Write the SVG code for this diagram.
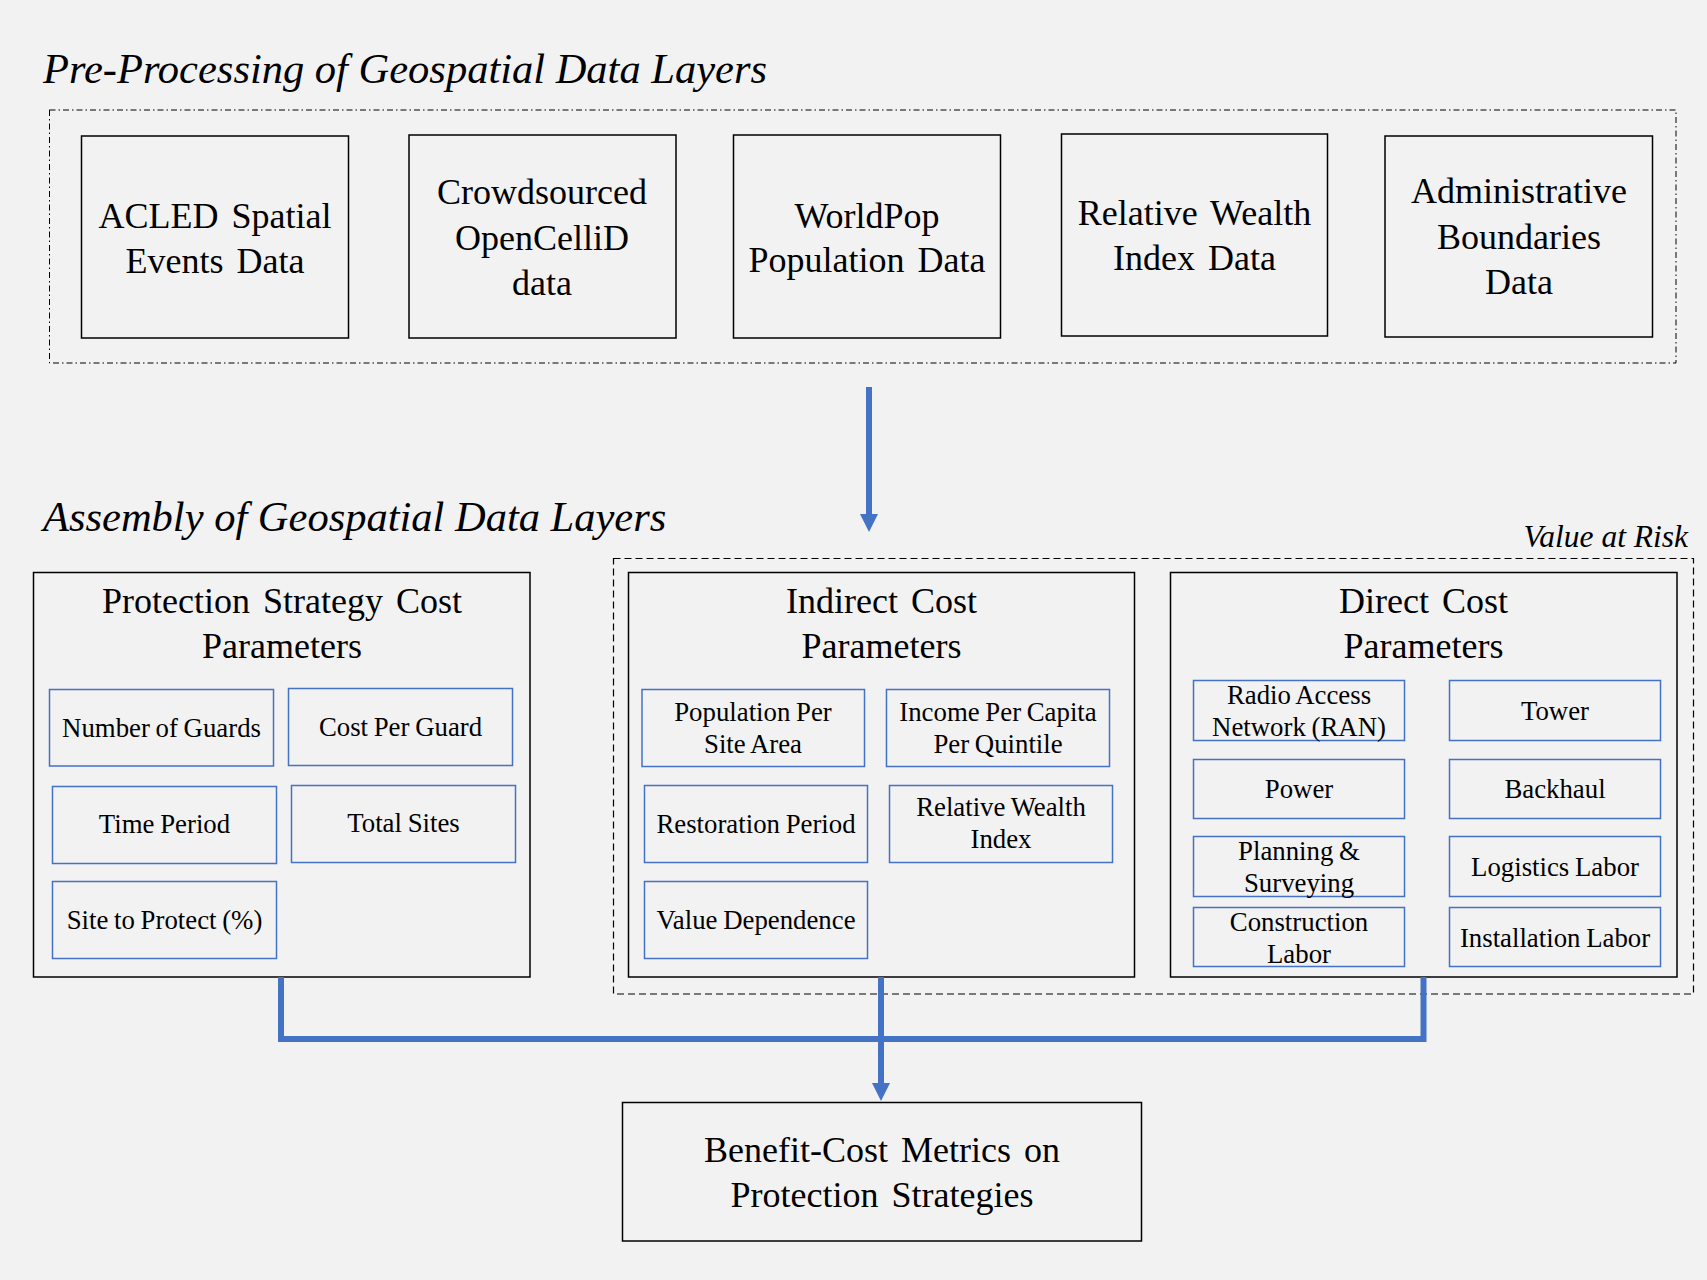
<svg xmlns="http://www.w3.org/2000/svg" width="1707" height="1280" viewBox="0 0 1707 1280">
<defs>
<style>
text{font-family:"Liberation Serif","Times New Roman",serif;fill:#000;text-anchor:middle}
.h{font-style:italic;text-anchor:start;font-size:42.5px}
.big{font-size:36px;word-spacing:4px}
.sm{font-size:26.8px;word-spacing:-1px}
.blk{fill:none;stroke:#000;stroke-width:1.5}
.blu{fill:none;stroke:#4472c4;stroke-width:1.5}
.conn{fill:none;stroke:#4472c4;stroke-width:6}
</style>
<marker id="ah" markerUnits="userSpaceOnUse" markerWidth="20" markerHeight="18" refX="0" refY="9" orient="auto">
<path d="M0,0 L18,9 L0,18 Z" fill="#4472c4"/>
</marker>
</defs>
<rect width="1707" height="1280" fill="#f2f2f2"/>

<text class="h" x="43" y="83">Pre-Processing of Geospatial Data Layers</text>
<rect x="49.5" y="110" width="1626.5" height="253" fill="none" stroke="#000" stroke-width="1" stroke-dasharray="6,3,1.5,3"/>

<g id="n-acled"><rect class="blk" x="81.5" y="136" width="267" height="202"/>
<text class="big" x="215" y="228">ACLED Spatial</text><text class="big" x="215" y="273">Events Data</text></g>
<g id="n-opencellid"><rect class="blk" x="409" y="135" width="267" height="203"/>
<text class="big" x="542" y="204">Crowdsourced</text><text class="big" x="542" y="250">OpenCelliD</text><text class="big" x="542" y="295">data</text></g>
<g id="n-worldpop"><rect class="blk" x="733.5" y="135" width="267" height="203"/>
<text class="big" x="867" y="228">WorldPop</text><text class="big" x="867" y="272">Population Data</text></g>
<g id="n-rwi"><rect class="blk" x="1061.5" y="134" width="266" height="202"/>
<text class="big" x="1194.5" y="225">Relative Wealth</text><text class="big" x="1194.5" y="270">Index Data</text></g>
<g id="n-admin"><rect class="blk" x="1385" y="136" width="267.5" height="201"/>
<text class="big" x="1519" y="203">Administrative</text><text class="big" x="1519" y="249">Boundaries</text><text class="big" x="1519" y="294">Data</text></g>

<text class="h" x="43" y="531">Assembly of Geospatial Data Layers</text>
<rect x="613.5" y="558.5" width="1080" height="435.5" fill="none" stroke="#000" stroke-width="1.2" stroke-dasharray="7,4"/>
<text x="1688" y="547" style="font-style:italic;font-size:31.5px;text-anchor:end">Value at Risk</text>

<g id="n-protection"><rect class="blk" x="33.5" y="572.5" width="496.5" height="404.5"/>
<text class="big" x="282" y="613">Protection Strategy Cost</text><text class="big" x="282" y="658">Parameters</text></g>
<g id="n-guards"><rect class="blu" x="49.5" y="689.5" width="224" height="76.5"/><text class="sm" x="161.5" y="737">Number of Guards</text></g>
<g id="n-costguard"><rect class="blu" x="288.5" y="688.5" width="224" height="77"/><text class="sm" x="400.5" y="736">Cost Per Guard</text></g>
<g id="n-time"><rect class="blu" x="52.5" y="786.5" width="224" height="77"/><text class="sm" x="164.5" y="833">Time Period</text></g>
<g id="n-total"><rect class="blu" x="291.5" y="785.5" width="224" height="77"/><text class="sm" x="403.5" y="832">Total Sites</text></g>
<g id="n-siteprot"><rect class="blu" x="52.5" y="881.5" width="224" height="77"/><text class="sm" x="164.5" y="928.5">Site to Protect (%)</text></g>

<g id="n-indirect"><rect class="blk" x="628.5" y="572.5" width="506" height="404.5"/>
<text class="big" x="881.5" y="613">Indirect Cost</text><text class="big" x="881.5" y="658">Parameters</text></g>
<g id="n-pop"><rect class="blu" x="642" y="689.5" width="222.5" height="77"/><text class="sm" x="753" y="721">Population Per</text><text class="sm" x="753" y="752.5">Site Area</text></g>
<g id="n-income"><rect class="blu" x="886.5" y="689.5" width="223" height="77"/><text class="sm" x="998" y="721">Income Per Capita</text><text class="sm" x="998" y="752.5">Per Quintile</text></g>
<g id="n-restore"><rect class="blu" x="644.5" y="785.5" width="223" height="77"/><text class="sm" x="756" y="833">Restoration Period</text></g>
<g id="n-rwi2"><rect class="blu" x="889.5" y="785.5" width="223" height="77"/><text class="sm" x="1001" y="816">Relative Wealth</text><text class="sm" x="1001" y="848">Index</text></g>
<g id="n-valdep"><rect class="blu" x="644.5" y="881.5" width="223" height="77"/><text class="sm" x="756" y="928.5">Value Dependence</text></g>

<g id="n-direct"><rect class="blk" x="1170.5" y="572.5" width="506.5" height="404.5"/>
<text class="big" x="1423.5" y="613">Direct Cost</text><text class="big" x="1423.5" y="658">Parameters</text></g>
<g id="n-ran"><rect class="blu" x="1193.5" y="680.5" width="211" height="60"/><text class="sm" x="1299" y="704">Radio Access</text><text class="sm" x="1299" y="736">Network (RAN)</text></g>
<g id="n-tower"><rect class="blu" x="1449.5" y="680.5" width="211" height="60"/><text class="sm" x="1555" y="720">Tower</text></g>
<g id="n-power"><rect class="blu" x="1193.5" y="759.5" width="211" height="59"/><text class="sm" x="1299" y="798">Power</text></g>
<g id="n-backhaul"><rect class="blu" x="1449.5" y="759.5" width="211" height="59"/><text class="sm" x="1555" y="798">Backhaul</text></g>
<g id="n-planning"><rect class="blu" x="1193.5" y="836.5" width="211" height="60"/><text class="sm" x="1299" y="860">Planning &amp;</text><text class="sm" x="1299" y="892">Surveying</text></g>
<g id="n-logistics"><rect class="blu" x="1449.5" y="836.5" width="211" height="60"/><text class="sm" x="1555" y="876">Logistics Labor</text></g>
<g id="n-construction"><rect class="blu" x="1193.5" y="907.5" width="211" height="59"/><text class="sm" x="1299" y="931">Construction</text><text class="sm" x="1299" y="963">Labor</text></g>
<g id="n-install"><rect class="blu" x="1449.5" y="907.5" width="211" height="59"/><text class="sm" x="1555" y="947">Installation Labor</text></g>

<g id="n-benefit"><rect class="blk" x="622.5" y="1102.5" width="519" height="138.5"/>
<text class="big" x="882" y="1162">Benefit-Cost Metrics on</text><text class="big" x="882" y="1207">Protection Strategies</text></g>

<g id="connectors">
<line class="conn" x1="869" y1="387" x2="869" y2="514" marker-end="url(#ah)"/>
<polyline class="conn" points="281,977 281,1039 1423.5,1039 1423.5,977"/>
<line class="conn" x1="881" y1="977" x2="881" y2="1083" marker-end="url(#ah)"/>
</g>
</svg>
